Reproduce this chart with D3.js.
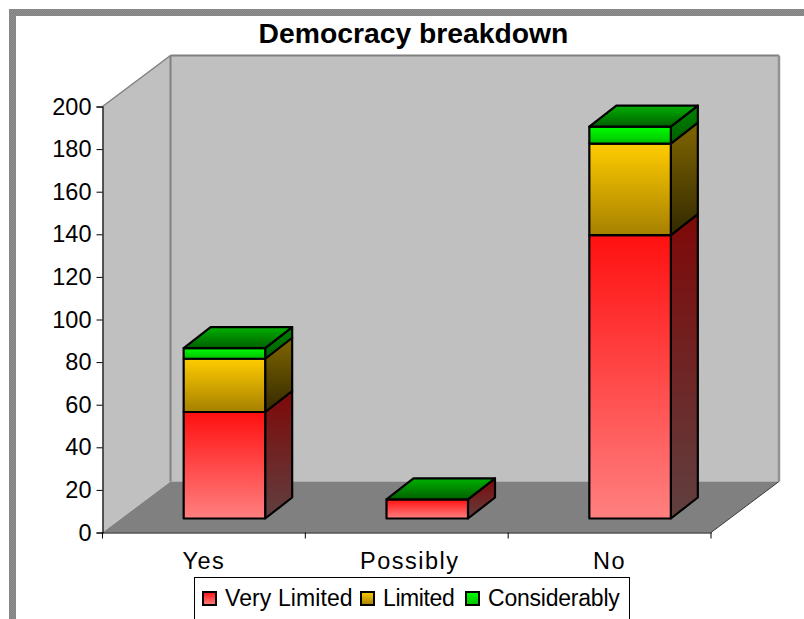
<!DOCTYPE html>
<html><head><meta charset="utf-8">
<script src="https://cdn.jsdelivr.net/npm/d3@7"></script>
<style>html,body{margin:0;padding:0;background:#fff}svg{display:block}text{font-family:"Liberation Sans",Arial,sans-serif;fill:#000}</style>
</head><body><svg id="c" width="804" height="619"></svg>
<script>
const categories = ["Yes","Possibly","No"];
const seriesNames = ["Very Limited","Limited","Considerably"];
const veryLimited = [50,9,133];
const limited = [25,0,43];
const considerably = [5,0,8];
const yTicks = [0,20,40,60,80,100,120,140,160,180,200];
const title = "Democracy breakdown";

const svg = d3.select("#c");
const defs = svg.append("defs");
function grad(id,a,b){const g=defs.append("linearGradient").attr("id",id).attr("x1",0).attr("y1",0).attr("x2",0).attr("y2",1);
  g.append("stop").attr("offset",0).attr("stop-color",a);g.append("stop").attr("offset",1).attr("stop-color",b);}
const palettes = [
 {front:["#ff1010","#ff8080"],side:["#7f0808","#604040"]},
 {front:["#ffcc00","#a68000"],side:["#806600","#332900"]},
 {front:["#00ff00","#00c000"],side:["#008000","#006000"]}];
palettes.forEach((p,i)=>{grad("f"+i,...p.front);grad("s"+i,...p.side);});
grad("top","#00b000","#006000");
const dp=defs.append("pattern").attr("id","dither").attr("width",2).attr("height",2).attr("patternUnits","userSpaceOnUse");
dp.append("rect").attr("width",2).attr("height",2).attr("fill","#808080");
dp.append("rect").attr("width",1).attr("height",1).attr("fill","#909090");
dp.append("rect").attr("x",1).attr("y",1).attr("width",1).attr("height",1).attr("fill","#909090");

// outer frame
svg.append("rect").attr("x",9).attr("y",9).attr("width",795).attr("height",7).attr("fill","url(#dither)");
svg.append("rect").attr("x",9).attr("y",9).attr("width",7).attr("height",610).attr("fill","url(#dither)");

svg.append("text").attr("x",413.5).attr("y",43).attr("text-anchor","middle").attr("font-weight","bold").attr("font-size",28.3).text(title);

const x0=102.5,x1=711,yBase=532.5,yTop=106.5,depthX=68,depthY=-51;
const x=d3.scaleBand().domain(categories).range([x0,x1]);
const y=d3.scaleLinear().domain([0,200]).range([yBase,yTop]);

// walls and floor
const g=svg.append("g");
const poly=(pts,fill)=>g.append("polygon").attr("points",pts.map(p=>p.join(",")).join(" ")).attr("fill",fill);
poly([[x0,yTop],[x0+depthX,yTop+depthY],[x0+depthX,yBase+depthY],[x0,yBase]],"#c0c0c0");
poly([[x0+depthX,yTop+depthY],[x1+depthX,yTop+depthY],[x1+depthX,yBase+depthY],[x0+depthX,yBase+depthY]],"#c0c0c0");
poly([[x0,yBase],[x1,yBase],[x1+depthX,yBase+depthY],[x0+depthX,yBase+depthY]],"#808080");
const wl=(a,b,c,d,w,col)=>g.append("line").attr("x1",a).attr("y1",b).attr("x2",c).attr("y2",d).attr("stroke",col||"#808080").attr("stroke-width",w);
wl(x0,yTop,x0+depthX,yTop+depthY,1.5);
wl(x0+depthX,yTop+depthY,x1+depthX,yTop+depthY,2);
wl(x0+depthX,yTop+depthY,x0+depthX,yBase+depthY,2);
wl(x1+depthX,yTop+depthY,x1+depthX,yBase+depthY,2.5,"#929292");
wl(x1,yBase,x1+depthX,yBase+depthY,1,"#3a3a3a");

// axes
const ay=svg.append("g").attr("transform",`translate(${x0},0)`).call(d3.axisLeft(y).tickValues(yTicks).tickSize(6).tickPadding(5));
const ax=svg.append("g").attr("transform",`translate(0,${yBase})`).call(d3.axisBottom(x).tickSize(0).tickPadding(18));
ax.selectAll(".tick line").remove();
const edges=[x0,x0+x.step(),x0+2*x.step(),x1];
ax.selectAll("line.edge").data(edges).enter().append("line").attr("class","edge").attr("x1",d=>d).attr("x2",d=>d).attr("y1",0).attr("y2",6).attr("stroke","#000");
[ay,ax].forEach(a=>{a.selectAll("path").attr("stroke","#000").attr("stroke-width",1.2);a.selectAll("text").attr("font-family","Liberation Sans").attr("font-size",23.5).attr("fill","#000");});
ax.selectAll(".tick text").attr("letter-spacing",1.5).attr("dy","0.78em").attr("y",18).attr("dx",(d,i)=>i===1?3:0);

// bars
const barW=81.5,offX=20.5,offY=-14,sideX=27,sideY=-21;
const rows=[veryLimited,limited,considerably];
const bars=svg.append("g").attr("stroke","#000").attr("stroke-width",2.2).attr("stroke-linejoin","round");
categories.forEach((c,ci)=>{
  const L=x(c)+(x.bandwidth()-barW)/2+offX, R=L+barW;
  let cum=0,topY=null;
  rows.forEach((r,si)=>{
    const v=r[ci]; if(!v) return;
    const yb=y(cum)+offY; cum+=v; const yt=y(cum)+offY; topY=yt;
    bars.append("polygon").attr("points",[[R,yb],[R+sideX,yb+sideY],[R+sideX,yt+sideY],[R,yt]].join(" ")).attr("fill",`url(#s${si})`);
    bars.append("rect").attr("x",L).attr("y",yt).attr("width",barW).attr("height",yb-yt).attr("fill",`url(#f${si})`);
  });
  bars.append("polygon").attr("points",[[L,topY],[L+sideX,topY+sideY],[R+sideX,topY+sideY],[R,topY]].join(" ")).attr("fill","url(#top)");
});

// legend
const leg=svg.append("g");
leg.append("rect").attr("x",194.5).attr("y",577.5).attr("width",435).attr("height",50).attr("fill","#fff").attr("stroke","#000");
const lx=[203,361,466];
const lsp=[0.1,-0.4,-0.22];
seriesNames.forEach((n,i)=>{
  leg.append("rect").attr("x",lx[i]).attr("y",592).attr("width",13).attr("height",13).attr("fill",`url(#f${i})`).attr("stroke","#000").attr("stroke-width",2);
  leg.append("text").attr("x",lx[i]+22).attr("y",606).attr("font-size",23).attr("letter-spacing",lsp[i]).text(n);
});
</script></body></html>
